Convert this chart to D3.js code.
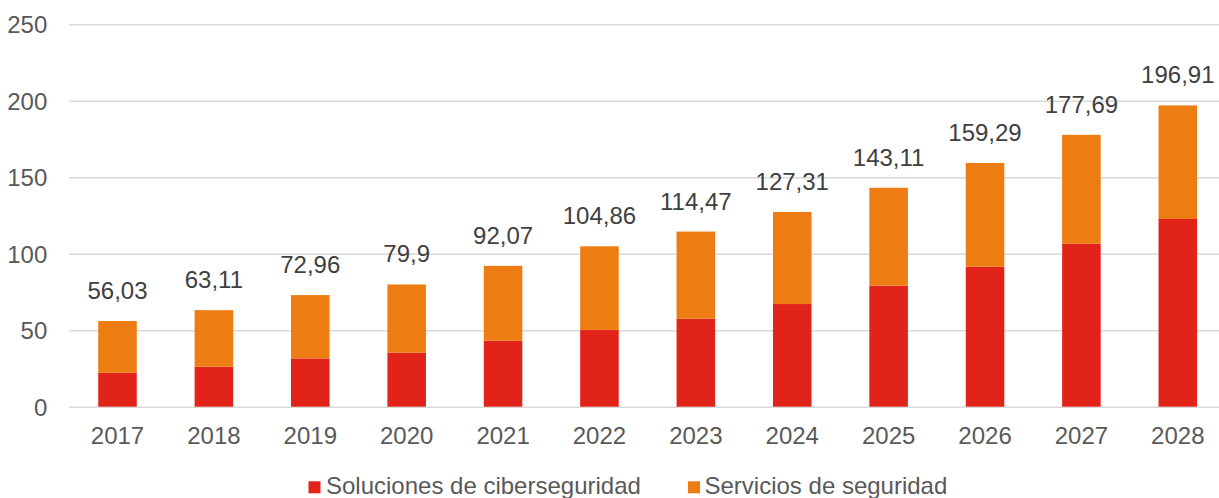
<!DOCTYPE html>
<html>
<head>
<meta charset="utf-8">
<script src="https://cdn.jsdelivr.net/npm/d3@7"></script>
<style>
  html, body { margin: 0; padding: 0; background: #fff; overflow: hidden; }
  svg { display: block; font-family: "Liberation Sans", Arial, sans-serif; }
</style>
</head>
<body>
<script>
const years = ["2017","2018","2019","2020","2021","2022","2023","2024","2025","2026","2027","2028"];
const soluciones = [22.2, 26.1, 31.6, 35.3, 43.1, 50.1, 57.5, 67.1, 79.1, 91.5, 106.5, 122.7];
const servicios = [33.83, 37.01, 41.36, 44.6, 48.97, 54.76, 56.97, 60.21, 64.01, 67.79, 71.19, 74.21];
const totalLabels = ["56,03","63,11","72,96","79,9","92,07","104,86","114,47","127,31","143,11","159,29","177,69","196,91"];
const yTicks = [0, 50, 100, 150, 200, 250];
const seriesNames = ["Soluciones de ciberseguridad", "Servicios de seguridad"];

const svgWidth = 1219;
const svgHeight = 498;
const colors = ["#e2231a", "#ed7d12"];

const svg = d3.select("body")
  .append("svg")
  .attr("width", svgWidth)
  .attr("height", svgHeight);

const x = d3.scaleBand()
  .domain(years)
  .range([69.3, 1226])
  .paddingInner(0.6)
  .paddingOuter(0.3);

const y = d3.scaleLinear()
  .domain([0, 250])
  .range([406.7, 24.2]);

// grid + y labels
const yAxis = svg.append("g")
  .attr("transform", "translate(69.3,0)")
  .call(d3.axisLeft(y).tickValues(yTicks).tickSize(-(1226 - 69.3)).tickPadding(22));
yAxis.select(".domain").remove();
yAxis.selectAll(".tick line").attr("stroke", "#d9d9d9").attr("stroke-width", 1.6);
yAxis.selectAll(".tick text")
  .attr("fill", "#595959")
  .style("font-size", "24px")
  .attr("dy", "0.35em");

// stacked bars
const rows = years.map((yr, i) => ({ year: yr, a: soluciones[i], b: servicios[i] }));
const stack = d3.stack().keys(["a", "b"])(rows);

svg.append("g")
  .selectAll("g")
  .data(stack)
  .enter().append("g")
  .attr("fill", (d, i) => colors[i])
  .selectAll("rect")
  .data(d => d)
  .enter().append("rect")
  .attr("x", d => x(d.data.year))
  .attr("y", d => y(d[1]))
  .attr("width", x.bandwidth())
  .attr("height", d => y(d[0]) - y(d[1]));

// total labels
svg.append("g")
  .selectAll("text")
  .data(rows)
  .enter().append("text")
  .attr("x", d => x(d.year) + x.bandwidth() / 2)
  .attr("y", d => y(d.a + d.b) - 22)
  .attr("text-anchor", "middle")
  .attr("fill", "#404040")
  .style("font-size", "24px")
  .text((d, i) => totalLabels[i]);

// x axis labels
const xAxis = svg.append("g")
  .attr("transform", "translate(0,406.7)")
  .call(d3.axisBottom(x).tickSize(0).tickPadding(20));
xAxis.select(".domain").remove();
xAxis.selectAll(".tick text")
  .attr("fill", "#595959")
  .style("font-size", "24px");

// legend
const legendItems = [
  { name: seriesNames[0], color: colors[0], sx: 308.5, tx: 326 },
  { name: seriesNames[1], color: colors[1], sx: 688, tx: 704.5 }
];
const legend = svg.append("g");
legendItems.forEach(it => {
  legend.append("rect")
    .attr("x", it.sx).attr("y", 481.3)
    .attr("width", 12).attr("height", 12)
    .attr("fill", it.color);
  legend.append("text")
    .attr("x", it.tx).attr("y", 494)
    .attr("fill", "#595959")
    .style("font-size", "24px")
    .text(it.name);
});
</script>
</body>
</html>
